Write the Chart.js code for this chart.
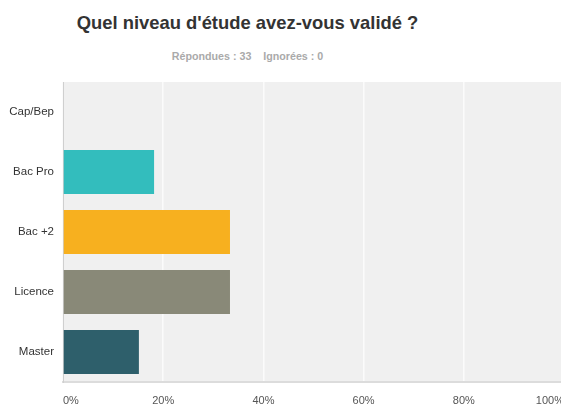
<!DOCTYPE html>
<html>
<head>
<meta charset="utf-8">
<script src="https://cdn.jsdelivr.net/npm/chart.js@4/dist/chart.umd.min.js"></script>
<style>
  html, body { margin: 0; padding: 0; background: #fff; overflow: hidden; width: 561px; height: 405px; }
  #wrap { position: relative; width: 566px; height: 405px; }
  #title { position: absolute; left: 0; width: 495px; top: 12px; text-align: center;
    font-family: "Liberation Sans", Arial, sans-serif; font-weight: bold; font-size: 18.4px; color: #333; white-space: nowrap; }
  #sub { position: absolute; left: 0; width: 495px; top: 50px; text-align: center;
    font-family: "Liberation Sans", Arial, sans-serif; font-weight: bold; font-size: 10.7px; color: #aaa; white-space: pre; }
  canvas { position: absolute; left: 0; top: 0; }
</style>
</head>
<body>
<div id="wrap">
  <div id="title">Quel niveau d'étude avez-vous validé ?</div>
  <div id="sub">Répondues : 33    Ignorées : 0</div>
  <canvas id="c" width="566" height="405"></canvas>
</div>
<script>
const categories = ["Cap/Bep", "Bac Pro", "Bac +2", "Licence", "Master"];
const percentages = [0, 18.18, 33.33, 33.33, 15.15];
const barColors = ["#33bdbd", "#33bdbd", "#f7b01f", "#898978", "#2e5f6b"];
const tickValues = [0, 20, 40, 60, 80, 100];

const bgPlugin = {
  id: 'plotBg',
  beforeDraw(chart) {
    const a = chart.chartArea, ctx = chart.ctx;
    ctx.save();
    ctx.fillStyle = '#f0f0f0';
    ctx.fillRect(a.left, a.top, a.right - a.left, a.bottom - a.top);
    ctx.restore();
  }
};

new Chart(document.getElementById('c'), {
  type: 'bar',
  data: {
    labels: categories,
    datasets: [{
      data: percentages,
      backgroundColor: barColors,
      borderWidth: 0,
      categoryPercentage: 1,
      barPercentage: 0.735
    }]
  },
  plugins: [bgPlugin],
  options: {
    indexAxis: 'y',
    responsive: false,
    animation: false,
    layout: { padding: { left: 0, right: 2, top: 82, bottom: 0 } },
    plugins: { legend: { display: false }, tooltip: { enabled: false }, title: { display: false } },
    scales: {
      x: {
        min: 0, max: 100,
        afterBuildTicks(s) { s.ticks = tickValues.map(v => ({ value: v })); },
        afterFit(s) { s.height = 23; s.paddingLeft = 0; s.paddingRight = 0; },
        grid: { color: '#fbfbfb', lineWidth: 1.5, drawTicks: false },
        border: { color: '#dcdcdc', width: 2 },
        ticks: {
          align: 'inner',
          padding: 12,
          color: '#555',
          font: { family: '"Liberation Sans", Arial, sans-serif', size: 11 },
          callback: v => v + '%'
        }
      },
      y: {
        afterFit(s) { s.width = 63; s.paddingTop = 0; s.paddingBottom = 0; },
        grid: { display: false, drawTicks: false },
        border: { color: '#cfcfcf', width: 1 },
        ticks: {
          padding: 9,
          color: '#333',
          font: { family: '"Liberation Sans", Arial, sans-serif', size: 11.5 }
        }
      }
    }
  }
});
</script>
</body>
</html>
